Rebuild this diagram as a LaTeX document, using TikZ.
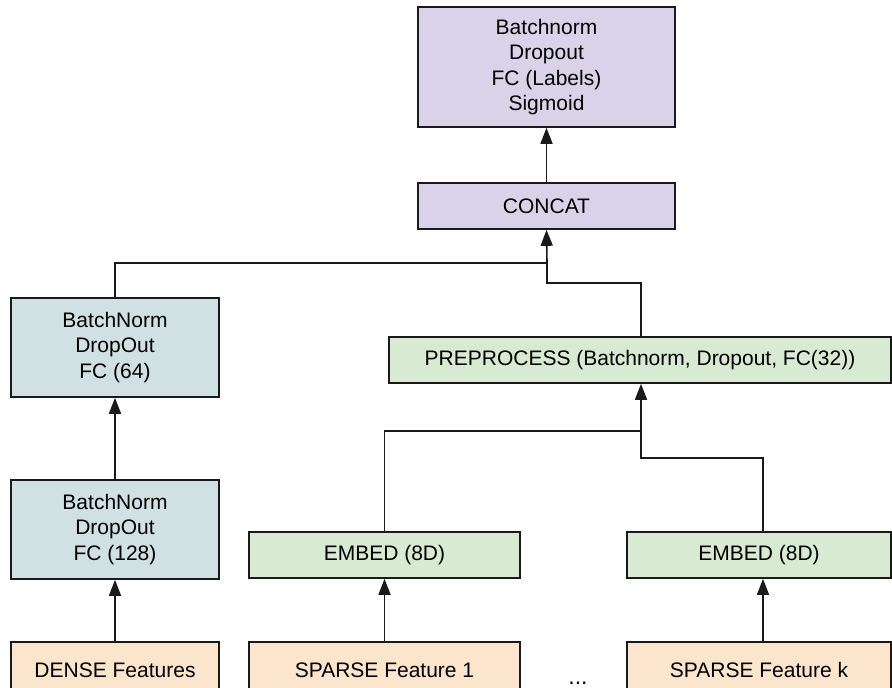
\documentclass[tikz,border=0pt]{standalone}
\usepackage{fontspec}
\setmainfont{Liberation Sans}
\usetikzlibrary{arrows.meta}
\definecolor{cpurple}{HTML}{D9D2E9}
\definecolor{cblue}{HTML}{D0E0E3}
\definecolor{cgreen}{HTML}{D9EAD3}
\definecolor{corange}{HTML}{FCE5CD}
\definecolor{cline}{HTML}{1A1A1A}
\tikzset{
  box/.style={draw=cline, line width=0.8pt, inner sep=0pt, align=center,
    font=\fontsize{10.5}{12.75}\selectfont, text=black},
  conn/.style={draw=cline, line width=0.8pt},
  arr/.style={conn, -{Triangle[length=8pt,width=6pt]}}
}
\begin{document}
\begin{tikzpicture}[x=0.5pt,y=-0.5pt]
\useasboundingbox (0,0) rectangle (892,687);
\clip (0,0) rectangle (892,687);
% nodes
\node[box, fill=cpurple, minimum width=128.5pt, minimum height=60pt] (top) at (546.5,67) {Batchnorm\\Dropout\\FC (Labels)\\Sigmoid};
\node[box, fill=cpurple, minimum width=128.5pt, minimum height=23pt] (concat) at (546.5,206) {CONCAT};
\node[box, fill=cblue, minimum width=104pt, minimum height=49.5pt] (b1) at (115,347.5) {BatchNorm\\DropOut\\FC (64)};
\node[box, fill=cblue, minimum width=104pt, minimum height=49.5pt] (b2) at (115,529.5) {BatchNorm\\DropOut\\FC (128)};
\node[box, fill=cgreen, minimum width=251pt, minimum height=23pt] (pre) at (640,360) {PREPROCESS (Batchnorm, Dropout, FC(32))};
\node[box, fill=cgreen, minimum width=135.5pt, minimum height=23pt] (e1) at (384.5,555) {EMBED (8D)};
\node[box, fill=cgreen, minimum width=132pt, minimum height=23pt] (e2) at (759,555) {EMBED (8D)};
\node[box, fill=corange, minimum width=104pt, minimum height=28pt] (dense) at (115,670) {DENSE Features};
\node[box, fill=corange, minimum width=135.5pt, minimum height=28pt] (s1) at (384.5,670) {SPARSE Feature 1};
\node[box, fill=corange, minimum width=132pt, minimum height=28pt] (sk) at (759,670) {SPARSE Feature k};
\node[anchor=base, inner sep=0pt, font=\fontsize{11.5}{12.75}\selectfont] (dots) at (578,684) {...};
% junction coordinates
\coordinate (jA) at (547,263);
\coordinate (jB) at (547,283);
\coordinate (jC) at (641,431);
\coordinate (jD) at (641,458);
% connectors
\draw[arr] (concat.north) -- (top.south);
\draw[arr] (b1.north) |- (jA) -- (concat.south);
\draw[conn] ([xshift=0.5pt]pre.north) |- (jB) -- (jA);
\draw[arr] (b2.north) -- (b1.south);
\draw[arr] (dense.north) -- (b2.south);
\draw[arr] (e1.north) |- (jC) -- ([xshift=0.5pt]pre.south);
\draw[conn] ([xshift=2pt]e2.north) |- (jD) -- (jC);
\draw[arr] (s1.north) -- (e1.south);
\draw[arr] ([xshift=2pt]sk.north) -- ([xshift=2pt]e2.south);
\end{tikzpicture}
\end{document}
